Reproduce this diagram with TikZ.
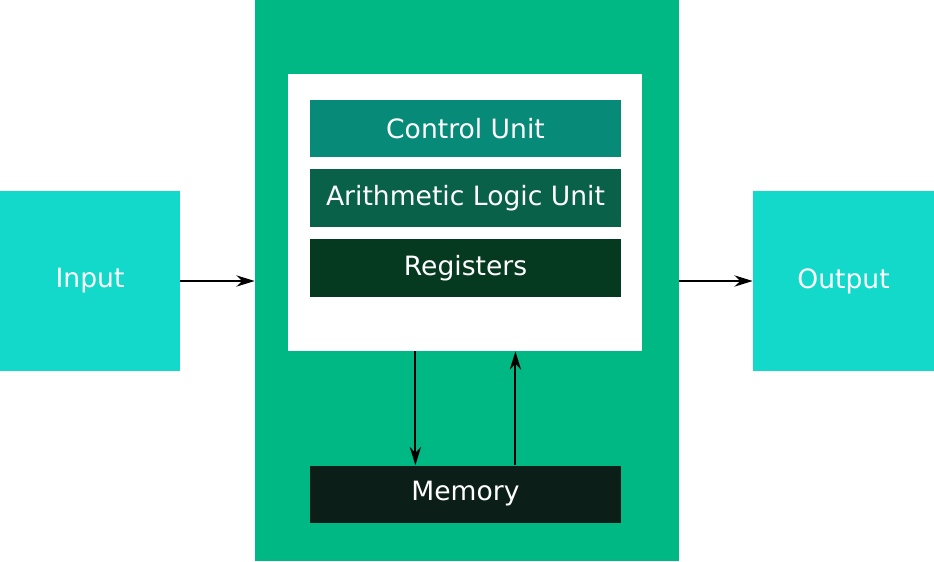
\documentclass[tikz,border=0pt]{standalone}
\usepackage{fontspec}
\setmainfont{DejaVu Sans}
\usetikzlibrary{arrows.meta}

\begin{document}
\begin{tikzpicture}[
  x=0.025cm,
  y=-0.025cm,
  box/.style={inner sep=0pt, text=white, font=\fontsize{18.9}{22}\selectfont},
  unit/.style={box, minimum width=7.775cm, minimum height=1.425cm},
  link/.style={line width=1.5pt, -{Stealth[length=13pt, width=8pt]}}
]

% Colours
\definecolor{ioCyan}{HTML}{12D9C9}
\definecolor{cpuGreen}{HTML}{00B884}
\definecolor{cuCol}{HTML}{078B78}
\definecolor{aluCol}{HTML}{0A614A}
\definecolor{regCol}{HTML}{053A20}
\definecolor{memCol}{HTML}{0B1E18}

\useasboundingbox (0,0) rectangle (934,561);

% Input / output blocks
\node[box, fill=ioCyan, minimum width=4.5cm, minimum height=4.5cm] (in) at (90,281) {Input};
\node[box, fill=ioCyan, minimum width=4.525cm, minimum height=4.5cm] (out) at (843.5,281) {Output};

% Processor body
\node[box, fill=cpuGreen, minimum width=10.6cm, minimum height=14.025cm] (cpu) at (467,280.5) {};
\node[box, fill=white, minimum width=8.85cm, minimum height=6.925cm] (core) at (465,212.5) {};

% Units inside the core
\node[unit, fill=cuCol] (cu) at (465.5,128.5) {Control Unit};
\node[unit, fill=aluCol] (alu) at (465.5,198) {Arithmetic Logic Unit};
\node[unit, fill=regCol] (reg) at (465.5,268) {Registers};
\node[unit, fill=memCol] (mem) at (465.5,494) {Memory};

% Data flow
\draw[link] (in.east) -- (in.east -| cpu.west);
\draw[link] (out.west -| cpu.east) -- (out.west);
\draw[link] ([xshift=-1.24cm]core.south) -- ([xshift=-1.24cm]core.south |- mem.north);
\draw[link] ([xshift=1.26cm]core.south |- mem.north) -- ([xshift=1.26cm]core.south);

\end{tikzpicture}
\end{document}
